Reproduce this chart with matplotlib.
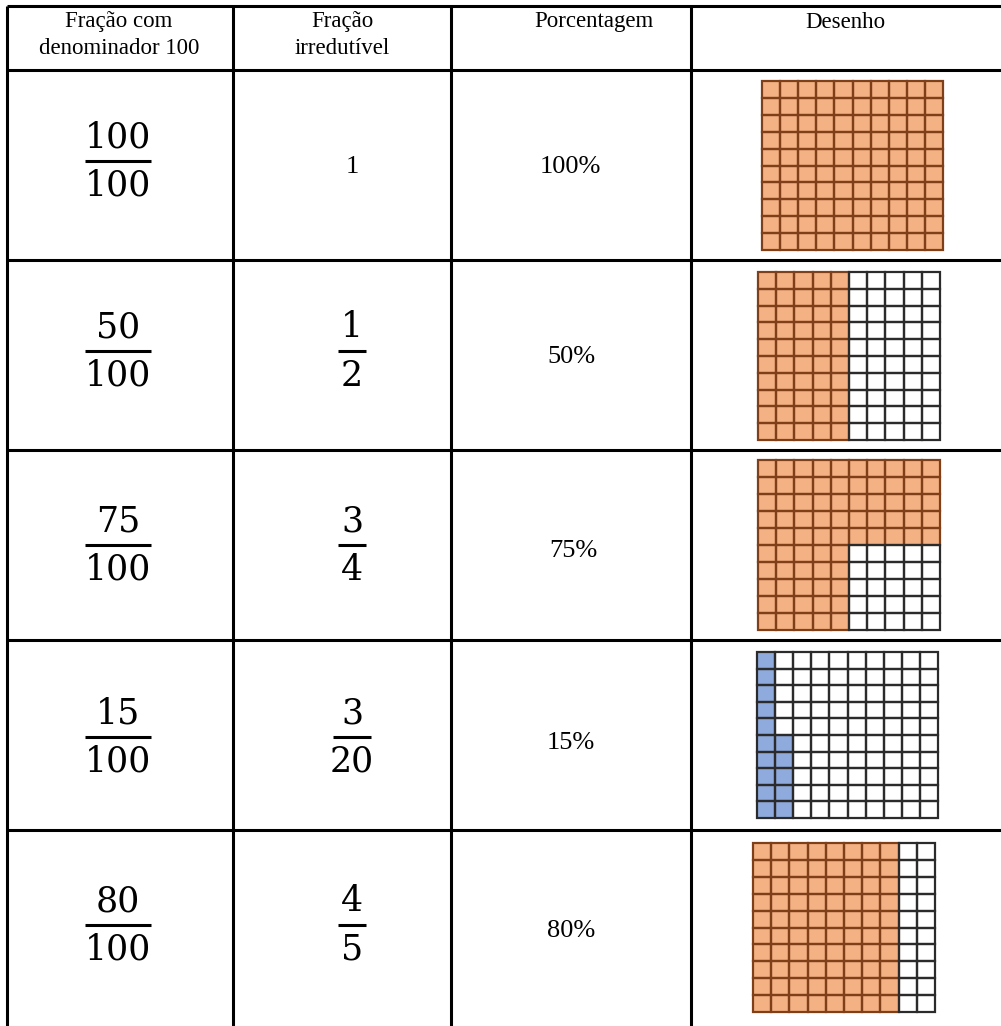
import matplotlib
matplotlib.use("Agg")
import matplotlib.pyplot as plt
from matplotlib.patches import Rectangle

# ---------------- data ----------------
headers = [["Fração com", "denominador 100"], ["Fração", "irredutível"], ["Porcentagem"], ["Desenho"]]
numerators = ["100", "50", "75", "15", "80"]
denominators = ["100", "100", "100", "100", "100"]
irr_num = ["1", "1", "3", "3", "4"]
irr_den = [None, "2", "4", "20", "5"]
percentages = ["100%", "50%", "75%", "15%", "80%"]
# filled cells per column (10 columns) and where the fill starts
fill_counts = [
    [10] * 10,
    [10] * 5 + [0] * 5,
    [10] * 5 + [5] * 5,
    [10, 5] + [0] * 8,
    [10] * 8 + [0] * 2,
]
fill_from = ["top", "top", "top", "bottom", "top"]
fill_colors = ["#F4B183", "#F4B183", "#F4B183", "#8FAADC", "#F4B183"]

# ---------------- layout ----------------
W, H = 1001, 1026
fig = plt.figure(figsize=(W / 100, H / 100), dpi=100)
ax = fig.add_axes([0, 0, 1, 1])
ax.set_xlim(0, W)
ax.set_ylim(H, 0)
ax.axis("off")

serif = ["Liberation Serif", "DejaVu Serif"]
mathf = ["DejaVu Serif"]

col_x = [7, 233, 451, 691]
row_y = [6, 70, 260, 450, 640, 830]
lw_tab = 2.2
for x in col_x:
    ax.plot([x, x], [row_y[0], H], color="black", lw=lw_tab, solid_capstyle="butt")
for y in row_y:
    ax.plot([col_x[0], W], [y, y], color="black", lw=lw_tab, solid_capstyle="butt")

# headers
hdr_cx = [119, 342, 594, 845]
for cx, lines in zip(hdr_cx, headers):
    for i, t in enumerate(lines):
        ax.text(cx, 22 + 26 * i, t, ha="center", va="center", fontsize=16.5, family=serif)

frac_fs = 25
col1_cx = 118
col2_cx = 352
pct_cx = [570, 571, 573, 571, 571]
row_c = [161, 351, 545, 737, 925]

def fraction(cx, cy, num, den, half):
    ax.text(cx, cy - 24, num, ha="center", va="center", fontsize=frac_fs, family=mathf)
    ax.text(cx, cy + 25, den, ha="center", va="center", fontsize=frac_fs, family=mathf)
    ax.plot([cx - half, cx + half], [cy, cy], color="black", lw=2.2, solid_capstyle="butt")

for i in range(5):
    cy = row_c[i]
    fraction(col1_cx, cy, numerators[i], denominators[i], 33)
    if irr_den[i] is None:
        ax.text(col2_cx, cy + 6, irr_num[i], ha="center", va="center", fontsize=19, family=serif)
    else:
        half = 19 if len(irr_den[i]) > 1 else 14
        fraction(col2_cx, cy, irr_num[i], irr_den[i], half)
    ax.text(pct_cx[i], cy + 6, percentages[i], ha="center", va="center", fontsize=19, family=serif)

# drawings: (left, top, right, bottom)
boxes = [
    (762, 81, 943, 250),
    (758, 272, 940, 440),
    (758, 460, 940, 630),
    (757, 652, 938, 818),
    (753, 843, 935, 1012),
]
brown = "#7E3F19"
dark = "#2B2B2B"
for k, (l, t, r, b) in enumerate(boxes):
    cw = (r - l) / 10
    ch = (b - t) / 10
    filled = [[False] * 10 for _ in range(10)]
    for c, n in enumerate(fill_counts[k]):
        for j in range(n):
            rr = j if fill_from[k] == "top" else 9 - j
            filled[rr][c] = True
    for rr in range(10):
        for c in range(10):
            if filled[rr][c]:
                ax.add_patch(Rectangle((l + c * cw, t + rr * ch), cw, ch,
                                       facecolor=fill_colors[k], edgecolor="none", zorder=2))
    for rr in range(10):
        for c in range(10):
            ec = brown if (filled[rr][c] and fill_colors[k] == "#F4B183") else dark
            ax.add_patch(Rectangle((l + c * cw, t + rr * ch), cw, ch,
                                   facecolor="none", edgecolor=ec, lw=1.6,
                                   zorder=3 if ec == brown else 4))

fig.savefig("out.png", dpi=100)
